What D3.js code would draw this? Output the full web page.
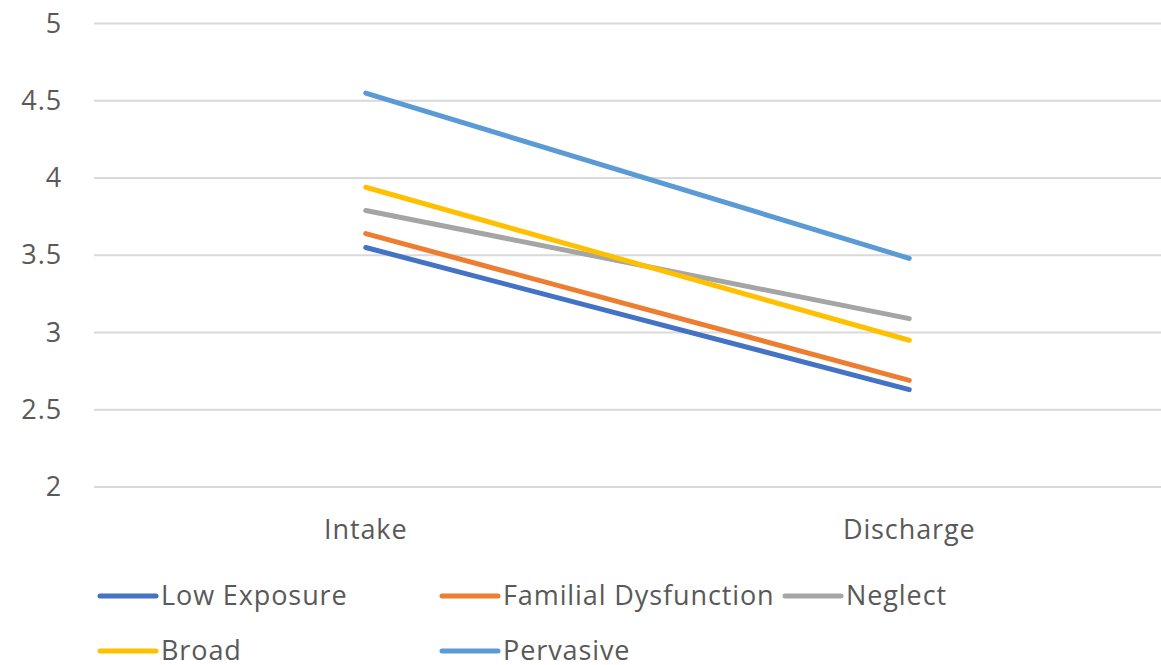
<!DOCTYPE html>
<html>
<head>
<meta charset="utf-8">
<script src="https://cdn.jsdelivr.net/npm/d3@7"></script>
<style>
  html, body { margin: 0; padding: 0; background: #fff; }
  svg { display: block; }
  text { font-family: "Open Sans", Lato, sans-serif; fill: #595959; letter-spacing: 0.9px; }
</style>
</head>
<body>
<svg id="chart" width="1161" height="665"></svg>
<script>
const categories = ["Intake", "Discharge"];
const seriesNames = ["Low Exposure", "Familial Dysfunction", "Neglect", "Broad", "Pervasive"];
const lowExposure = [3.55, 2.63];
const familialDysfunction = [3.64, 2.69];
const neglect = [3.79, 3.09];
const broad = [3.94, 2.95];
const pervasive = [4.55, 3.48];
const yTicks = [2, 2.5, 3, 3.5, 4, 4.5, 5];
const colors = ["#4472C4", "#ED7D31", "#A5A5A5", "#FFC000", "#5B9BD5"];

const seriesValues = [lowExposure, familialDysfunction, neglect, broad, pervasive];
const series = seriesNames.map((name, i) => ({ name, values: seriesValues[i], color: colors[i] }));

const svg = d3.select("#chart");
const plotLeft = 94, plotRight = 1181, plotTop = 23.5, plotBottom = 487;
const fontFamily = "'Open Sans', Lato, sans-serif";
const fontSize = 27;

const x = d3.scaleBand().domain(categories).range([plotLeft, plotRight]);
const y = d3.scaleLinear().domain([2, 5]).range([plotBottom, plotTop]);

// gridlines
svg.append("g").selectAll("line").data(yTicks).join("line")
  .attr("x1", plotLeft).attr("x2", plotRight)
  .attr("y1", d => y(d)).attr("y2", d => y(d))
  .attr("stroke", "#d9d9d9").attr("stroke-width", 2);

// y axis labels
const yAxis = svg.append("g").attr("transform", `translate(${62},0)`)
  .call(d3.axisLeft(y).tickValues(yTicks).tickSize(0).tickPadding(0).tickFormat(d3.format("")));
yAxis.select(".domain").remove();
yAxis.selectAll("text").attr("font-size", fontSize).attr("fill", "#595959")
  .style("font-family", fontFamily);

// x axis labels
const xAxis = svg.append("g").attr("transform", `translate(0,${plotBottom})`)
  .call(d3.axisBottom(x).tickSize(0).tickPadding(33));
xAxis.select(".domain").remove();
xAxis.selectAll("text").attr("font-size", fontSize).attr("fill", "#595959")
  .style("font-family", fontFamily);

// lines
const line = d3.line()
  .x((d, i) => x(categories[i]) + x.bandwidth() / 2)
  .y(d => y(d));

svg.append("g").selectAll("path").data(series).join("path")
  .attr("d", d => line(d.values))
  .attr("fill", "none")
  .attr("stroke", d => d.color)
  .attr("stroke-width", 5)
  .attr("stroke-linecap", "round");

// legend
const legendCols = [100, 442, 785];
const legendRows = [596, 651];
const leg = svg.append("g").selectAll("g").data(series).join("g")
  .attr("transform", (d, i) => `translate(${legendCols[i % 3]},${legendRows[Math.floor(i / 3)]})`);
leg.append("line")
  .attr("x1", 0).attr("x2", 56).attr("y1", 0).attr("y2", 0)
  .attr("stroke", d => d.color).attr("stroke-width", 5).attr("stroke-linecap", "round");
leg.append("text")
  .attr("x", 61).attr("y", 0).attr("dy", "0.35em")
  .attr("font-size", fontSize)
  .style("font-family", fontFamily)
  .text(d => d.name);
</script>
</body>
</html>
